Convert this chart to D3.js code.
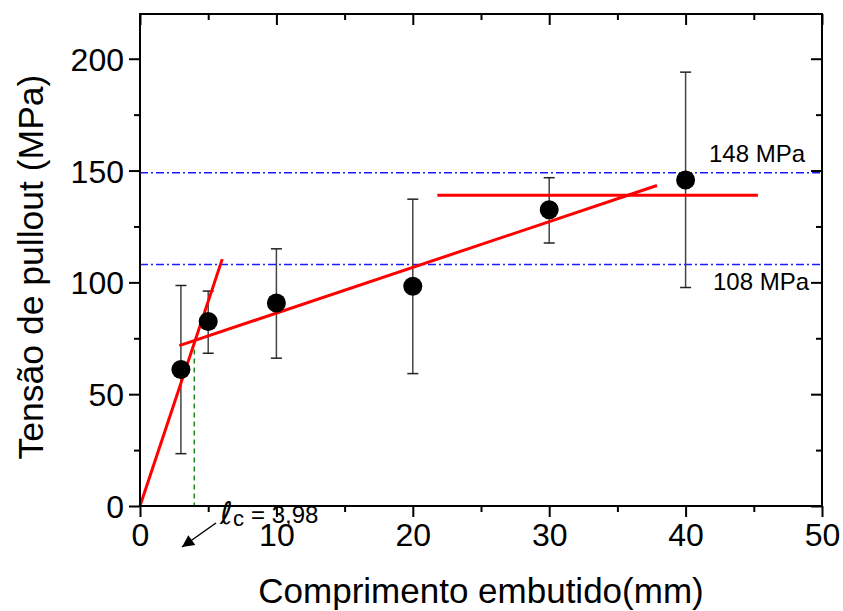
<!DOCTYPE html>
<html>
<head>
<meta charset="utf-8">
<script src="https://cdn.jsdelivr.net/npm/d3@7"></script>
<style>
  html, body { margin: 0; padding: 0; background: #fff; }
  svg { display: block; font-family: "Liberation Sans", Arial, Helvetica, sans-serif; }
</style>
</head>
<body>
<svg id="chart" width="843" height="611"></svg>
<script>
// ---- data ----
const lengths = [3, 5, 10, 20, 30, 40];             // embedded length (mm)
const stressMean = [61, 82.5, 90.8, 98.3, 132.5, 145.8];  // MPa
const stressLow = [23.4, 68.3, 66.1, 59.2, 117.6, 97.7];
const stressHigh = [98.6, 96.1, 115, 137.2, 146.8, 194];
const fitSteep = [[0, 0], [6.03, 110.4]];
const fitShallow = [[2.88, 71.7], [37.9, 143.3]];
const fitPlateau = [[21.8, 139], [45.3, 139]];
const refLevels = [149, 108];
const refLabels = ["148 MPa", "108 MPa"];
const criticalLength = 3.98;
const criticalStress = 74;
const xTicks = [0, 10, 20, 30, 40, 50];
const xMinor = [5, 15, 25, 35, 45];
const yTicks = [0, 50, 100, 150, 200];
const yMinor = [25, 75, 125, 175];

// ---- layout ----
const svg = d3.select("#chart");
const L = 140, R = 822, T = 14, B = 506;
const x = d3.scaleLinear().domain([0, 50]).range([L, R]);
const y = d3.scaleLinear().domain([0, 220]).range([B, T]);

// reference lines (dash-dot)
svg.append("g").selectAll("line").data(refLevels).join("line")
  .attr("x1", x(0)).attr("x2", x(50))
  .attr("y1", d => y(d)).attr("y2", d => y(d))
  .attr("stroke", "#1a1aff").attr("stroke-width", 1.5)
  .attr("stroke-dasharray", "8,3,2,3");

svg.append("text").attr("x", 709).attr("y", 162)
  .attr("font-size", 24).attr("fill", "#000").text(refLabels[0]);
svg.append("text").attr("x", 713).attr("y", 290)
  .attr("font-size", 24).attr("fill", "#000").text(refLabels[1]);

// critical length dashed line
svg.append("line")
  .attr("x1", x(criticalLength)).attr("x2", x(criticalLength))
  .attr("y1", y(criticalStress)).attr("y2", y(0))
  .attr("stroke", "#1a8a1a").attr("stroke-width", 1.5)
  .attr("stroke-dasharray", "5,4");

// error bars
const eb = svg.append("g").attr("stroke", "#444").attr("stroke-width", 1.5);
lengths.forEach((l, i) => {
  eb.append("line").attr("x1", x(l)).attr("x2", x(l))
    .attr("y1", y(stressLow[i])).attr("y2", y(stressHigh[i]));
  [stressLow[i], stressHigh[i]].forEach(v => {
    eb.append("line").attr("x1", x(l) - 5.5).attr("x2", x(l) + 5.5)
      .attr("y1", y(v)).attr("y2", y(v)).attr("stroke", "#222");
  });
});

// fit lines
const line = d3.line().x(d => x(d[0])).y(d => y(d[1]));
[fitSteep, fitShallow, fitPlateau].forEach(f => {
  svg.append("path").attr("d", line(f))
    .attr("stroke", "#ff0000").attr("stroke-width", 3).attr("fill", "none");
});

// points
svg.append("g").selectAll("circle").data(lengths).join("circle")
  .attr("cx", d => x(d)).attr("cy", (d, i) => y(stressMean[i]))
  .attr("r", 9.5).attr("fill", "#000");

// axes
const fs = 32;
const gB = svg.append("g").attr("transform", `translate(0,${B})`)
  .call(d3.axisBottom(x).tickValues(xTicks).tickSize(11).tickPadding(6).tickFormat(d3.format("d")));
const gBm = svg.append("g").attr("transform", `translate(0,${B})`)
  .call(d3.axisBottom(x).tickValues(xMinor).tickSize(6).tickFormat(""));
const gT = svg.append("g").attr("transform", `translate(0,${T})`)
  .call(d3.axisBottom(x).tickValues(xTicks).tickSize(11).tickFormat(""));
const gTm = svg.append("g").attr("transform", `translate(0,${T})`)
  .call(d3.axisBottom(x).tickValues(xMinor).tickSize(6).tickFormat(""));
const gL = svg.append("g").attr("transform", `translate(${L},0)`)
  .call(d3.axisLeft(y).tickValues(yTicks).tickSize(11).tickPadding(5).tickFormat(d3.format("d")));
const gLm = svg.append("g").attr("transform", `translate(${L},0)`)
  .call(d3.axisLeft(y).tickValues(yMinor).tickSize(6).tickFormat(""));
const gR = svg.append("g").attr("transform", `translate(${R},0)`)
  .call(d3.axisLeft(y).tickValues(yTicks).tickSize(11).tickFormat(""));
const gRm = svg.append("g").attr("transform", `translate(${R},0)`)
  .call(d3.axisLeft(y).tickValues(yMinor).tickSize(6).tickFormat(""));
[gB, gBm, gT, gTm, gL, gLm, gR, gRm].forEach(g => {
  g.selectAll("path").remove();
  g.selectAll("line").attr("stroke", "#000").attr("stroke-width", 2);
  g.selectAll("text").attr("font-size", fs).attr("fill", "#000")
    .attr("font-family", "Liberation Sans, Arial, sans-serif");
});
gL.selectAll("text").attr("dy", "0.36em");
// frame
svg.append("rect").attr("x", L).attr("y", T).attr("width", R - L).attr("height", B - T)
  .attr("fill", "none").attr("stroke", "#000").attr("stroke-width", 2);

// axis titles
svg.append("text").attr("x", 481).attr("y", 603)
  .attr("text-anchor", "middle").attr("font-size", 35).text("Comprimento embutido(mm)");
svg.append("text").attr("transform", "translate(43,267) rotate(-90)")
  .attr("text-anchor", "middle").attr("font-size", 35.5).text("Tensão de pullout (MPa)");

// critical length annotation
svg.append("text").attr("x", 220).attr("y", 524).attr("font-size", 31)
  .attr("font-family", "DejaVu Sans, sans-serif").text("ℓ");
svg.append("text").attr("x", 233).attr("y", 526).attr("font-size", 22).text("c");
svg.append("text").attr("x", 251).attr("y", 523).attr("font-size", 24).text("= 3,98");

// arrow
svg.append("defs").append("marker").attr("id", "arr")
  .attr("viewBox", "0 0 10 10").attr("refX", 10).attr("refY", 5)
  .attr("markerWidth", 15).attr("markerHeight", 12).attr("markerUnits", "userSpaceOnUse")
  .attr("orient", "auto")
  .append("path").attr("d", "M0,0 L10,5 L0,10 Z").attr("fill", "#000");
svg.append("line").attr("x1", 216).attr("y1", 523).attr("x2", 182).attr("y2", 547)
  .attr("stroke", "#000").attr("stroke-width", 1.5).attr("marker-end", "url(#arr)");
</script>
</body>
</html>
